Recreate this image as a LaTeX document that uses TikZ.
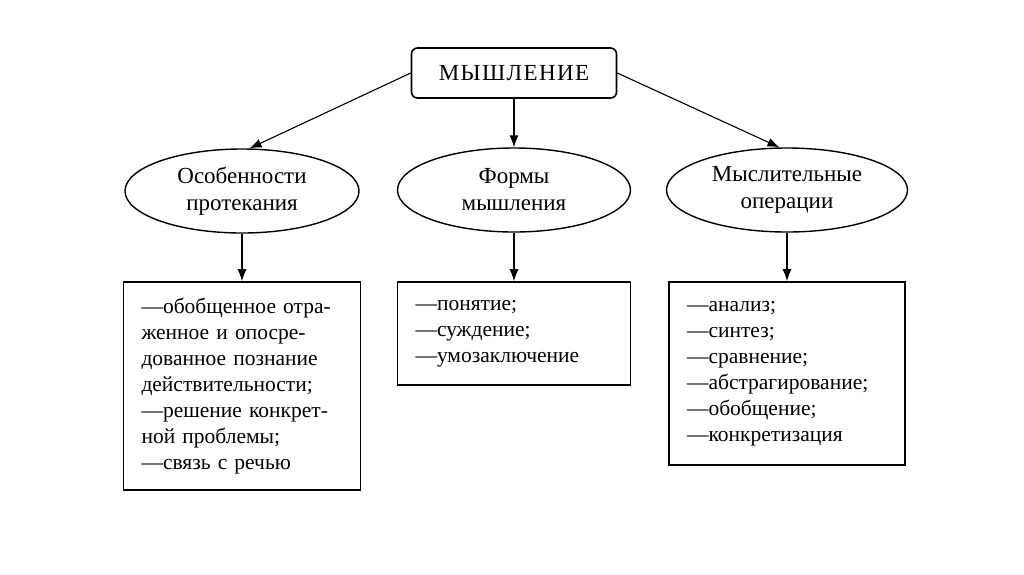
\documentclass[tikz,border=0pt]{standalone}
\usepackage{fontspec}
\setmainfont{Liberation Serif}
\usepackage{tikz}
\usetikzlibrary{positioning,shapes.geometric,arrows.meta}
\tikzstyle{head box}=[draw=black, line width=1.6pt, rounded corners=6pt, minimum width=205pt, minimum height=50pt, font=\fontsize{23}{26}\selectfont\addfontfeature{LetterSpace=6}]
\tikzstyle{topic}=[draw=black, ellipse, line width=1.4pt, inner sep=0pt, align=center, minimum height=84pt, font=\fontsize{23}{27}\selectfont]
\tikzstyle{list box}=[draw=black, rectangle, line width=1.6pt, align=left, inner xsep=18pt, font=\fontsize{21.5}{26}\selectfont]
\tikzstyle{link}=[-{Latex[length=12pt,width=9pt]}, line width=1.1pt]

\begin{document}
\begin{tikzpicture}[x=1pt,y=-1pt]
    \useasboundingbox (0,0) rectangle (1024,574);
    % top
    \node[style=head box] (think) at (514,73) {МЫШЛЕНИЕ};
    % second row
    \node[style=topic, minimum width=234pt] (flow) at (242,191) {Особенности\\протекания};
    \node[style=topic, minimum width=233pt] (forms) at (514,190) {Формы\\мышления};
    \node[style=topic, minimum width=241pt] (ops) at (787,190) {Мыслительные\\операции};
    % lists
    \node[style=list box, text width=201pt, minimum height=208pt] (flowlist) at (242,386) {%
        —обобщенное отра-\\
        женное и опосре-\\
        дованное познание\\
        действительности;\\
        —решение конкрет-\\
        ной проблемы;\\
        —связь с речью};
    \node[style=list box, text width=197pt, minimum height=103pt] (formslist) at (514,333.5) {%
        —понятие;\\
        —суждение;\\
        —умозаключение};
    \node[style=list box, text width=200pt, minimum height=183pt] (opslist) at (787,373.5) {%
        —анализ;\\
        —синтез;\\
        —сравнение;\\
        —абстрагирование;\\
        —обобщение;\\
        —конкретизация};
    % arrows
    \draw[style=link] (think.west) -- (flow.80);
    \draw[style=link] (think.south) -- (forms.north);
    \draw[style=link] (think.east) -- (ops.100);
    \draw[style=link] (flow.south) -- (flowlist.north);
    \draw[style=link] (forms.south) -- (formslist.north);
    \draw[style=link] (ops.south) -- (opslist.north);
\end{tikzpicture}
\end{document}
